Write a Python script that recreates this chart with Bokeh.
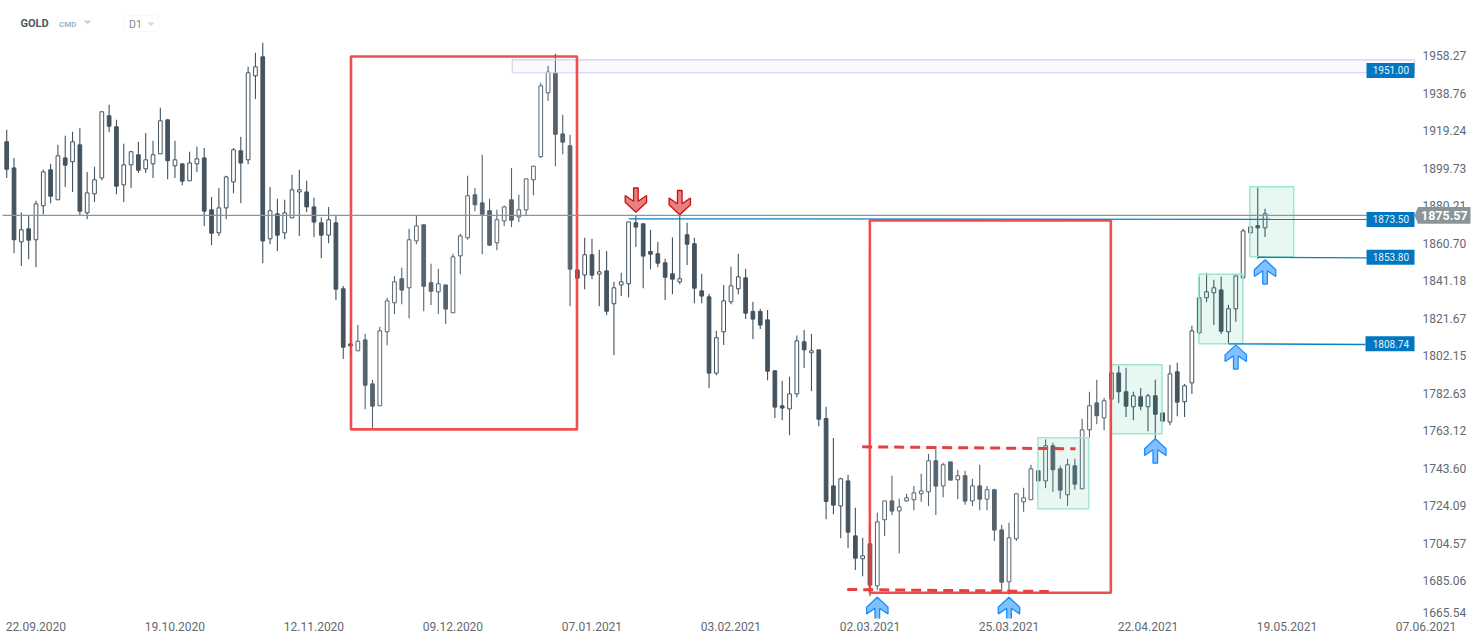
from bokeh.plotting import figure
from bokeh.models import ColumnDataSource, FixedTicker, Range1d, BoxAnnotation
from bokeh.core.properties import value
from bokeh.embed import file_html
from bokeh.resources import INLINE

opens = [1913.9,1900.3,1861.8,1868.6,1862.9,1880.6,1899.3,1883.7,1905.5,1903.5,1912.3,1876.9,1886.8,1895.1,1927.4,1921.7,1891.5,1901.9,1907.1,1899.8,
1902.4,1907.6,1925.3,1901.4,1902.4,1893.6,1902.4,1905.5,1878.5,1866.5,1879.5,1893.0,1909.2,1904.5,1948.2,1958.1,1863.4,1876.4,1866.5,1874.3,
1887.8,1887.8,1880.0,1871.7,1865.3,1871.7,1837.4,1808.7,1805.1,1810.8,1787.9,1776.5,1815.0,1830.1,1842.6,1837.9,1862.3,1870.7,1840.5,1835.8,
1839.4,1824.9,1854.5,1863.9,1886.3,1882.1,1878.0,1861.3,1872.7,1883.7,1874.8,1878.5,1894.1,1906.1,1939.4,1949.8,1918.0,1911.8,1847.2,1844.6,
1855.1,1845.0,1846.7,1829.6,1839.4,1840.0,1871.7,1871.2,1856.8,1855.6,1850.9,1845.2,1841.0,1865.5,1860.8,1836.3,1833.2,1793.5,1815.0,1830.6,
1837.4,1843.1,1825.6,1825.6,1821.2,1794.7,1776.5,1774.9,1782.7,1809.8,1804.1,1805.6,1769.9,1734.8,1724.4,1737.4,1708.8,1696.9,1704.7,1682.8,
1717.2,1727.0,1721.8,1727.0,1727.6,1730.7,1731.7,1747.9,1734.8,1747.3,1738.0,1740.1,1727.0,1734.8,1727.9,1732.8,1711.9,1684.9,1707.3,1726.5,
1727.6,1742.7,1737.4,1755.7,1743.7,1730.2,1745.3,1733.3,1764.0,1778.0,1770.2,1780.1,1793.6,1783.8,1776.0,1781.2,1776.0,1781.7,1772.8,1768.1,
1794.2,1778.6,1788.4,1814.5,1832.7,1835.3,1836.8,1815.0,1827.0,1843.1,1866.5,1870.2,1869.1]
highs = [1920.1,1905.5,1877.1,1875.5,1883.2,1899.5,1902.4,1912.3,1917.0,1919.1,1921.1,1898.2,1900.9,1929.5,1933.1,1925.3,1912.8,1909.2,1913.9,1918.5,
1914.4,1931.6,1925.8,1914.4,1902.4,1908.7,1911.3,1910.7,1885.2,1889.9,1896.2,1910.7,1916.5,1952.9,1960.2,1965.4,1890.4,1884.2,1883.7,1896.7,
1899.3,1893.6,1884.7,1874.5,1880.0,1875.7,1838.9,1817.8,1818.6,1813.9,1790.0,1817.6,1832.7,1844.1,1848.3,1868.6,1875.5,1870.7,1850.4,1847.8,
1839.4,1855.6,1866.0,1896.2,1889.9,1907.1,1884.2,1878.5,1880.6,1900.3,1886.3,1894.6,1901.2,1944.6,1953.4,1959.7,1927.9,1917.5,1847.2,1863.9,
1863.4,1857.7,1857.1,1841.0,1845.7,1872.2,1875.5,1871.2,1868.1,1861.8,1853.0,1864.1,1875.5,1871.7,1863.9,1845.2,1834.8,1815.5,1839.4,1848.8,
1855.6,1847.8,1830.6,1827.0,1826.4,1795.0,1789.5,1791.6,1813.1,1816.0,1813.9,1805.6,1776.0,1759.8,1739.0,1740.6,1723.4,1707.8,1714.6,1720.8,
1727.0,1740.1,1728.1,1730.7,1734.8,1741.1,1751.5,1755.7,1746.8,1747.3,1743.2,1742.7,1738.5,1745.8,1734.8,1733.3,1714.6,1715.6,1730.7,1733.8,
1745.8,1742.7,1759.0,1757.2,1745.3,1748.9,1748.9,1769.7,1783.8,1790.0,1780.6,1793.6,1797.3,1796.3,1783.8,1785.8,1782.7,1790.0,1772.8,1797.8,
1798.9,1787.9,1818.1,1843.6,1845.7,1842.1,1843.6,1829.0,1844.1,1868.6,1869.6,1890.1,1879.0]
lows = [1895.0,1855.9,1849.2,1852.8,1848.6,1876.0,1881.9,1883.7,1890.3,1887.7,1875.2,1873.6,1882.5,1893.9,1918.9,1886.6,1882.5,1889.8,1897.6,1897.6,
1895.0,1907.6,1894.4,1895.0,1891.3,1893.6,1898.1,1870.0,1860.1,1864.8,1873.6,1887.1,1881.9,1902.2,1936.1,1850.7,1860.6,1857.1,1863.2,1874.3,
1864.8,1877.3,1864.2,1853.3,1861.1,1831.5,1800.8,1801.8,1805.1,1774.7,1764.5,1776.5,1808.0,1824.2,1829.4,1822.1,1860.6,1825.7,1828.9,1824.2,
1819.0,1824.9,1845.0,1862.9,1877.8,1855.4,1859.6,1857.5,1870.0,1869.5,1872.1,1875.9,1886.1,1905.5,1935.2,1901.2,1907.4,1828.3,1842.9,1837.2,
1842.4,1828.3,1823.7,1802.8,1833.6,1833.0,1859.1,1837.7,1847.6,1848.6,1831.5,1834.6,1839.8,1849.7,1829.9,1829.9,1785.7,1792.4,1808.1,1829.4,
1834.6,1821.6,1811.2,1816.4,1789.8,1770.1,1769.0,1761.2,1781.0,1796.1,1784.1,1765.9,1717.5,1720.1,1707.6,1702.4,1691.0,1687.8,1677.4,1680.6,
1708.7,1719.6,1699.8,1726.5,1722.2,1726.5,1724.3,1719.6,1728.9,1737.8,1727.9,1725.0,1724.4,1722.2,1722.2,1706.1,1680.0,1678.3,1706.1,1721.3,
1727.6,1737.3,1733.6,1731.7,1728.1,1724.4,1732.8,1733.3,1760.0,1766.9,1763.8,1780.1,1777.9,1770.6,1769.0,1774.2,1763.3,1756.7,1768.5,1766.4,
1771.1,1770.6,1782.6,1813.3,1830.4,1818.5,1813.8,1808.9,1820.2,1842.6,1866.5,1853.0,1864.3]
closes = [1899.6,1862.9,1868.1,1862.7,1881.6,1898.2,1885.6,1906.6,1901.7,1913.9,1877.8,1887.3,1894.1,1929.5,1922.0,1890.8,1901.9,1908.7,1899.1,1904.5,
1907.1,1924.8,1904.0,1904.5,1893.4,1902.9,1905.0,1877.8,1866.3,1879.5,1895.6,1909.7,1902.8,1949.8,1952.9,1862.3,1878.0,1865.3,1876.9,1888.9,
1888.9,1880.0,1872.1,1865.3,1873.3,1837.2,1807.0,1807.7,1810.1,1787.2,1776.3,1815.5,1831.1,1841.0,1836.7,1862.9,1870.1,1838.7,1836.1,1840.0,
1826.8,1854.0,1864.9,1885.8,1881.1,1876.2,1860.1,1873.3,1880.0,1873.1,1878.5,1894.6,1901.2,1943.0,1950.1,1917.8,1913.7,1847.6,1842.9,1855.1,
1844.5,1846.2,1825.7,1837.9,1841.0,1872.2,1869.5,1854.4,1855.4,1850.7,1843.4,1842.4,1842.6,1860.6,1837.7,1833.6,1793.5,1811.9,1831.1,1838.9,
1843.6,1824.7,1821.6,1818.5,1794.5,1775.8,1775.3,1782.7,1810.3,1805.6,1805.1,1769.5,1726.7,1724.8,1738.5,1710.7,1697.2,1698.4,1683.2,1716.1,
1727.0,1721.7,1723.9,1728.6,1731.2,1732.2,1747.9,1734.7,1745.8,1737.8,1740.1,1726.9,1734.8,1727.9,1732.8,1711.8,1684.7,1707.8,1730.7,1728.6,
1743.7,1737.4,1755.7,1743.2,1732.6,1745.8,1735.7,1764.0,1776.5,1771.3,1779.1,1793.6,1783.8,1776.3,1781.7,1776.3,1781.7,1772.1,1768.5,1793.1,
1778.4,1786.9,1815.5,1832.7,1835.8,1837.9,1815.3,1827.0,1844.1,1867.5,1869.6,1869.1,1876.4]

date_ticks = [4, 23, 42, 61, 80, 99, 118, 137, 156, 175, 194]
date_labels = ["22.09.2020","19.10.2020","12.11.2020","09.12.2020","07.01.2021","03.02.2021",
               "02.03.2021","25.03.2021","22.04.2021","19.05.2021","07.06.2021"]
price_ticks = [1958.27,1938.76,1919.24,1899.73,1880.21,1860.70,1841.18,1821.67,1802.15,1782.63,
               1763.12,1743.60,1724.09,1704.57,1685.06,1668.66]
price_labels = ["1958.27","1938.76","1919.24","1899.73","1880.21","1860.70","1841.18","1821.67","1802.15","1782.63",
                "1763.12","1743.60","1724.09","1704.57","1685.06","1665.54"]

current_price = 1875.57
level_prices = [1951.00, 1873.50, 1853.80, 1808.74]
level_labels = ["1951.00", "1873.50", "1853.80", "1808.74"]

red_rects = [(47.06, 77.95, 1958.27, 1764.2), (117.98, 150.92, 1872.9, 1679.2)]
green_boxes = [(140.94, 147.91, 1759.84, 1722.88), (150.99, 157.92, 1797.83, 1761.92),
               (162.95, 168.97, 1845.0, 1808.76), (169.91, 175.92, 1890.46, 1854.03)]
red_dashes = [(116.93, 146.09, 1755.16, 1754.11), (114.89, 142.44, 1680.9, 1679.85)]
blue_lines = [(85.0, 185.9, 1873.8, 1873.5), (171.0, 185.9, 1853.8, 1853.5), (167.0, 185.7, 1808.76, 1808.4)]
down_arrows = [(86, 1877.2), (92, 1875.9)]
up_arrows = [(119, 1676.9), (137, 1676.9), (157, 1759.3), (168, 1808.2), (172, 1852.5)]

PX_PER_CANDLE = 7.316
PRICE_PER_PX = 0.5204
LEFT_PX = 6.2
TOP_PRICE = 1987.41
W, H, FH = 1482, 635, 618
DARK = "#43535f"
TXT = "#5f6a72"
ROB = value("Roboto")
LABEL_NUDGE = 0.5

def ix(px):
    return (px - LEFT_PX) / PX_PER_CANDLE

def py(y):
    return TOP_PRICE - PRICE_PER_PX * y

p = figure(width=W, height=H, frame_width=W, frame_height=FH,
           x_range=Range1d(ix(0), ix(W)), y_range=Range1d(py(FH), py(0)),
           y_axis_location="right", toolbar_location=None, output_backend="svg",
           min_border=0, min_border_left=0, min_border_right=0, min_border_top=0, min_border_bottom=17,
           outline_line_color=None, background_fill_color="white", border_fill_color="white")
p.grid.visible = False

nudged = [round(t + LABEL_NUDGE, 2) for t in price_ticks]
p.xaxis.ticker = FixedTicker(ticks=date_ticks)
p.xaxis.major_label_overrides = dict(zip(date_ticks, date_labels))
p.yaxis.ticker = FixedTicker(ticks=nudged)
p.yaxis.major_label_overrides = dict(zip(nudged, price_labels))
for ax in (p.xaxis[0], p.yaxis[0]):
    ax.axis_line_color = None
    ax.major_tick_line_color = None
    ax.minor_tick_line_color = None
    ax.major_tick_in = 0
    ax.major_tick_out = 0
    ax.major_label_text_font = "Roboto"
    ax.major_label_text_font_size = "12px"
    ax.major_label_text_color = TXT
p.xaxis.major_label_standoff = 3
p.yaxis.major_label_standoff = -60

idx = list(range(len(opens)))
src = ColumnDataSource(dict(
    x=idx, o=opens, h=highs, l=lows, c=closes,
    top=[max(a, b) for a, b in zip(opens, closes)],
    bot=[min(a, b) for a, b in zip(opens, closes)],
    fill=["#ffffff" if c >= o else DARK for o, c in zip(opens, closes)],
))
p.segment(x0="x", y0="h", x1="x", y1="l", source=src, line_color=DARK, line_width=1.1)
p.vbar(x="x", top="top", bottom="bot", width=3.7 / PX_PER_CANDLE, source=src,
       fill_color="fill", line_color=DARK, line_width=1.0)

# green zones
for l, r, t, b in green_boxes:
    p.quad(left=l, right=r, top=t, bottom=b, fill_color="#14b380", fill_alpha=0.1,
           line_color="#9fe6cf", line_width=1.5)

# purple resistance zone
p.quad(left=ix(511.7), right=192.43, top=1956.55, bottom=1949.8, fill_color="#7a5fd0", fill_alpha=0.04,
       line_color="#d5cdec", line_width=1.2)

# red rectangles
for l, r, t, b in red_rects:
    p.quad(left=l, right=r, top=t, bottom=b, fill_color="#ffffff", fill_alpha=0.1,
           line_color="#ee3b3b", line_alpha=0.9, line_width=2.6)

for x0, x1, y0, y1 in red_dashes:
    p.segment(x0=x0, x1=x1, y0=y0, y1=y1, line_color="#e8403e", line_width=3, line_dash="10 6")

# current price and level lines
p.segment(x0=ix(2), x1=ix(1414), y0=current_price, y1=current_price, line_color="#8c9599", line_width=1.2)
for x0, x1, y0, y1 in blue_lines:
    p.segment(x0=x0, x1=x1, y0=y0, y1=y1, line_color="#0a80c4", line_width=1.3)

# arrows
AX = [0, 10.7, 10.7, 2.3, 2.3, -2.3, -2.3, -10.7, -10.7]
AY = [0, 10, 16.7, 11, 24.3, 24.3, 11, 16.7, 10]
p.patches(xs=[[i + d / PX_PER_CANDLE for d in AX] for i, _ in down_arrows],
          ys=[[y + d * PRICE_PER_PX for d in AY] for _, y in down_arrows],
          fill_color="#e88080", line_color="#cc1010", line_width=1.3)
p.patches(xs=[[i + d / PX_PER_CANDLE for d in AX] for i, _ in up_arrows],
          ys=[[y - d * PRICE_PER_PX for d in AY] for _, y in up_arrows],
          fill_color="#80c0ff", line_color="#1a8cff", line_width=1.3)

# level tags
TAG_H = 3.9
p.quad(left=[185.87, 185.87, 185.87, 185.73], right=[192.43] * 4,
       top=[v + TAG_H for v in level_prices], bottom=[v - TAG_H for v in level_prices],
       fill_color="#0077c0", line_color=None, level="overlay")
p.text(x=[189.2] * 4, y=level_prices, text=level_labels, text_color="#e6f3fb", text_font=ROB,
       text_font_size="10px", text_align="center", text_baseline="middle", level="overlay")

# current price tag
p.patch(x=[ix(1414), ix(1417.5), ix(1470), ix(1470), ix(1417.5)],
        y=[current_price, current_price + 4.4, current_price + 4.4, current_price - 4.4, current_price - 4.4],
        fill_color="#8b9599", line_color=None, level="overlay")
p.text(x=[ix(1443.8)], y=[current_price], text=["1875.57"], text_color="#ffffff", text_font=ROB,
       text_font_style="bold", text_font_size="12.5px", text_align="center", text_baseline="middle", level="overlay")

# header
p.text(x=[ix(20)], y=[py(23.3)], text=["GOLD"], text_color="#4a5a64", text_font=ROB, text_font_style="bold",
       text_font_size="11px", text_align="left", text_baseline="middle")
p.text(x=[ix(58.5)], y=[py(24)], text=["CMD"], text_color="#a3b3be", text_font=ROB, text_font_style="bold",
       text_font_size="8px", text_align="left", text_baseline="middle")
p.text(x=[ix(128.5)], y=[py(23.5)], text=["D1"], text_color="#808b93", text_font=ROB,
       text_font_size="10.5px", text_align="left", text_baseline="middle")
p.patch(x=[ix(83), ix(91), ix(87)], y=[py(20), py(20), py(24)], fill_color="#cfd4d7", line_color=None)
p.patch(x=[ix(147), ix(154), ix(150.5)], y=[py(22), py(22), py(25.5)], fill_color="#cfd4d7", line_color=None)
p.add_layout(BoxAnnotation(left=ix(123.5), right=ix(158.2), top=py(15), bottom=py(31), fill_alpha=0,
                           line_color="#e6e8ea", line_width=1.2, border_radius=3, level="underlay"))

open("out.html", "w").write(file_html(p, INLINE))
